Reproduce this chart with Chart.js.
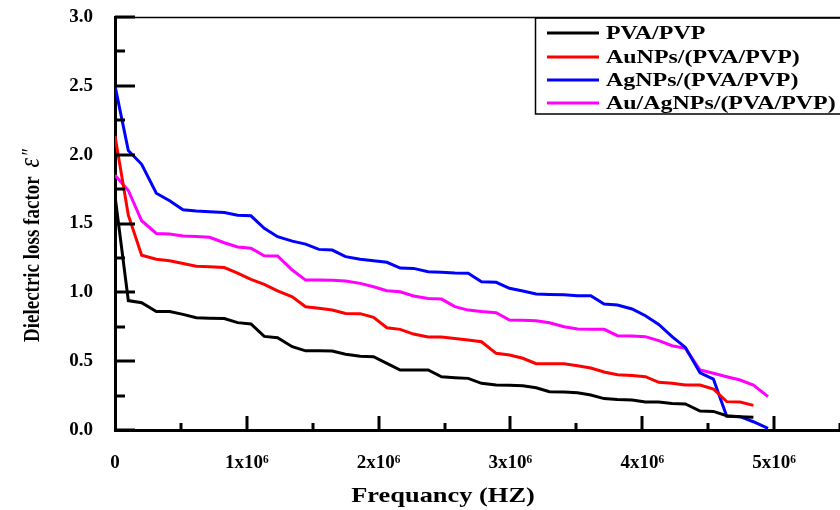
<!DOCTYPE html>
<html>
<head>
<meta charset="utf-8">
<script src="https://cdn.jsdelivr.net/npm/chart.js@4/dist/chart.umd.min.js"></script>
<style>
  html, body { margin: 0; padding: 0; background: #fff; }
</style>
</head>
<body>
<canvas id="chart" width="840" height="510"></canvas>
<script>
// frequency in units of 10^6 Hz
const freqMHz = [0, 0.10, 0.20, 0.31, 0.41, 0.51, 0.61, 0.71, 0.82, 0.92, 1.02, 1.12, 1.22, 1.33, 1.43, 1.53,
  1.63, 1.73, 1.84, 1.94, 2.04, 2.14, 2.24, 2.35, 2.45, 2.55, 2.65, 2.75, 2.86, 2.96, 3.06, 3.16, 3.26, 3.37,
  3.47, 3.57, 3.67, 3.77, 3.88, 3.98, 4.08, 4.18, 4.28, 4.39, 4.49, 4.59, 4.69, 4.79, 4.90];

const pvaPvp = [1.70, 0.94, 0.925, 0.86, 0.86, 0.84, 0.815, 0.812, 0.81, 0.78, 0.77, 0.68, 0.67, 0.605, 0.575,
  0.575, 0.574, 0.55, 0.535, 0.532, 0.484, 0.436, 0.436, 0.436, 0.387, 0.38, 0.375, 0.339, 0.327, 0.325, 0.322,
  0.307, 0.278, 0.276, 0.27, 0.254, 0.228, 0.222, 0.218, 0.203, 0.203, 0.193, 0.189, 0.138, 0.135, 0.104, 0.097, 0.092];

const auNPs = [2.135, 1.56, 1.27, 1.24, 1.23, 1.21, 1.19, 1.185, 1.18, 1.14, 1.094, 1.058, 1.01, 0.968, 0.895,
  0.884, 0.871, 0.847, 0.845, 0.818, 0.743, 0.731, 0.697, 0.675, 0.675, 0.665, 0.654, 0.641, 0.557, 0.545, 0.521,
  0.482, 0.482, 0.482, 0.467, 0.45, 0.421, 0.402, 0.395, 0.387, 0.346, 0.339, 0.327, 0.327, 0.298, 0.206, 0.203, 0.179];

const agNPs = [2.50, 2.03, 1.93, 1.72, 1.665, 1.60, 1.59, 1.585, 1.58, 1.56, 1.556, 1.465, 1.404, 1.372, 1.35,
  1.312, 1.307, 1.259, 1.24, 1.23, 1.218, 1.176, 1.174, 1.15, 1.145, 1.14, 1.138, 1.077, 1.073, 1.029, 1.01,
  0.988, 0.985, 0.983, 0.976, 0.976, 0.915, 0.908, 0.879, 0.83, 0.767, 0.678, 0.60, 0.416, 0.37, 0.10, 0.097, 0.06, 0.012];

const auAgNPs = [1.85, 1.74, 1.52, 1.428, 1.423, 1.41, 1.405, 1.40, 1.36, 1.33, 1.32, 1.266, 1.264, 1.162, 1.089,
  1.089, 1.087, 1.082, 1.065, 1.041, 1.012, 1.004, 0.973, 0.956, 0.951, 0.896, 0.871, 0.86, 0.852, 0.799, 0.797,
  0.794, 0.779, 0.75, 0.733, 0.732, 0.731, 0.685, 0.682, 0.678, 0.649, 0.612, 0.593, 0.436, 0.412, 0.387, 0.363, 0.327, 0.242];

const seriesNames = ['PVA/PVP', 'AuNPs/(PVA/PVP)', 'AgNPs/(PVA/PVP)', 'Au/AgNPs/(PVA/PVP)'];
const seriesColors = ['#000000', '#ff0000', '#0000ff', '#ff00ff'];
const seriesValues = [pvaPvp, auNPs, agNPs, auAgNPs];

const FONT = 'Liberation Serif';

function toPoints(values) {
  return values.map((v, i) => ({ x: freqMHz[i] * 1e6, y: v }));
}

// inward ticks, top frame, legend and axis titles
const decorPlugin = {
  id: 'decor',
  afterDraw(chart) {
    const ctx = chart.ctx;
    const area = chart.chartArea;
    const xs = chart.scales.x;
    const ys = chart.scales.y;
    ctx.save();
    ctx.strokeStyle = '#000';

    // top frame line
    ctx.lineWidth = 1.5;
    ctx.beginPath();
    ctx.moveTo(area.left, area.top + 0.5);
    ctx.lineTo(area.right, area.top + 0.5);
    ctx.stroke();

    ctx.lineWidth = 3;
    ys.ticks.forEach(t => {
      const y = Math.round(ys.getPixelForValue(t.value));
      const major = Math.round(t.value * 4) % 2 === 0;
      ctx.beginPath();
      ctx.moveTo(area.left, y);
      ctx.lineTo(area.left + (major ? 20 : 10), y);
      ctx.stroke();
    });
    xs.ticks.forEach(t => {
      if (t.value === 0) return;
      const x = Math.round(xs.getPixelForValue(t.value));
      const major = Math.round(t.value / 5e5) % 2 === 0;
      ctx.beginPath();
      ctx.moveTo(x, area.bottom);
      ctx.lineTo(x, area.bottom - (major ? 14 : 7));
      ctx.stroke();
    });

    // legend
    ctx.lineWidth = 1.5;
    ctx.strokeRect(535.5, 18, 400, 96);
    ctx.font = 'bold 19px "' + FONT + '"';
    ctx.textBaseline = 'middle';
    ctx.textAlign = 'left';
    const rows = [33, 57, 80, 103];
    chart.data.datasets.forEach((ds, i) => {
      ctx.strokeStyle = ds.borderColor;
      ctx.lineWidth = 3;
      ctx.beginPath();
      ctx.moveTo(547, rows[i]);
      ctx.lineTo(599, rows[i]);
      ctx.stroke();
      ctx.save();
      ctx.translate(606, rows[i] + 1);
      ctx.scale(1.26, 1);
      ctx.fillStyle = '#000';
      ctx.fillText(ds.label, 0, 0);
      ctx.restore();
    });

    // x title
    ctx.fillStyle = '#000';
    ctx.save();
    ctx.translate(443, 502);
    ctx.scale(1.2, 1);
    ctx.font = 'bold 22px "' + FONT + '"';
    ctx.textAlign = 'center';
    ctx.textBaseline = 'alphabetic';
    ctx.fillText('Frequancy (HZ)', 0, 0);
    ctx.restore();

    // y title
    ctx.save();
    ctx.translate(39, 342);
    ctx.rotate(-Math.PI / 2);
    ctx.scale(1, 1.25);
    ctx.textAlign = 'left';
    ctx.textBaseline = 'alphabetic';
    ctx.font = 'bold 19px "' + FONT + '"';
    const main = 'Dielectric loss factor ';
    ctx.fillText(main, 0, 0);
    const w = ctx.measureText(main).width + 4;
    ctx.font = 'italic 24px "' + FONT + '"';
    ctx.fillText('\u03B5', w, 0);
    ctx.font = '18px "' + FONT + '"';
    ctx.fillText('\u2033', w + 12, -2);
    ctx.restore();

    ctx.restore();
  }
};

new Chart(document.getElementById('chart'), {
  type: 'line',
  data: {
    datasets: seriesValues.map((vals, i) => ({
      label: seriesNames[i],
      data: toPoints(vals),
      borderColor: seriesColors[i],
      backgroundColor: seriesColors[i],
      borderWidth: 3,
      pointRadius: 0,
      tension: 0,
      fill: false
    }))
  },
  options: {
    responsive: false,
    animation: false,
    devicePixelRatio: 1,
    layout: { padding: { top: 17, left: 0, right: 0, bottom: 0 } },
    plugins: {
      legend: { display: false },
      tooltip: { enabled: false }
    },
    scales: {
      x: {
        type: 'linear',
        min: 0,
        max: 5.44e6,
        border: { color: '#000', width: 3 },
        grid: { display: false, drawTicks: false },
        ticks: {
          stepSize: 5e5,
          includeBounds: false,
          autoSkip: false,
          maxRotation: 0,
          padding: 22,
          color: '#000',
          font: { family: FONT, weight: 'bold', size: 19 },
          callback: v => v === 0 ? '0' : (Math.round(v / 5e5) % 2 === 0 ? Math.round(v / 1e6) + 'x10\u2076' : '')
        },
        afterFit: scale => {
          scale.height = 80;
          scale.paddingLeft = 0;
          scale.paddingRight = 0;
        }
      },
      y: {
        type: 'linear',
        min: 0,
        max: 3,
        border: { color: '#000', width: 3 },
        grid: { display: false, drawTicks: false },
        ticks: {
          stepSize: 0.25,
          autoSkip: false,
          padding: 22,
          color: '#000',
          font: { family: FONT, weight: 'bold', size: 19 },
          callback: v => Math.round(v * 4) % 2 === 0 ? v.toFixed(1) : ''
        },
        afterFit: scale => {
          scale.width = 115;
          scale.paddingTop = 0;
          scale.paddingBottom = 0;
        }
      }
    }
  },
  plugins: [decorPlugin]
});
</script>
</body>
</html>
